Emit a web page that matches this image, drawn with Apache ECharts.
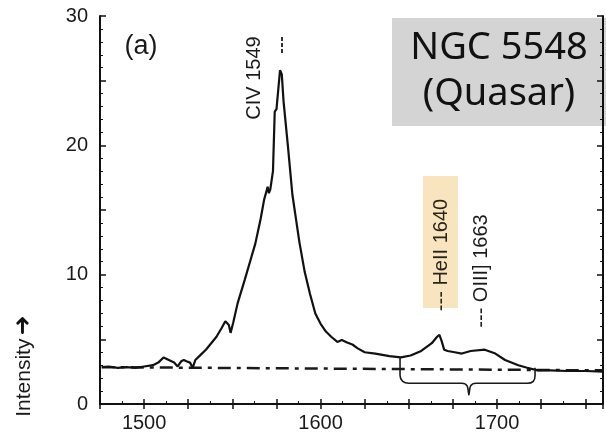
<!DOCTYPE html>
<html>
<head>
<meta charset="utf-8">
<script src="https://cdn.jsdelivr.net/npm/echarts@6/dist/echarts.min.js"></script>
<style>
  html, body { margin: 0; padding: 0; background: #fff; }
  #chart { width: 606px; height: 437px; }
</style>
</head>
<body>
<div id="chart"></div>
<script>
// spectrum (wavelength in A, relative intensity)
var wavelength = [1476, 1480, 1485, 1490, 1495, 1500, 1505, 1508, 1511, 1514, 1517, 1519, 1521, 1522.5, 1524, 1526, 1527.5,
    1529, 1532, 1535, 1538, 1541, 1544, 1546, 1548, 1549, 1550.5, 1553, 1557, 1560, 1563, 1566, 1568, 1570, 1570.7, 1571.5,
    1573, 1574, 1575, 1576, 1577, 1578, 1579, 1581.5, 1584, 1588, 1591, 1594, 1597, 1600, 1603, 1606, 1609.5, 1612, 1615,
    1618, 1621, 1625, 1631, 1639, 1645.5, 1651, 1657, 1663, 1666, 1667.3, 1668.5, 1670, 1672, 1676, 1680, 1685, 1693, 1699,
    1704.5, 1712, 1717, 1723, 1730, 1740, 1750, 1760];
var intensity = [2.85, 2.9, 2.8, 2.85, 2.8, 2.9, 3.0, 3.2, 3.6, 3.4, 3.2, 2.9, 3.3, 3.4, 3.3, 3.2, 2.8,
    3.4, 3.8, 4.2, 4.7, 5.2, 5.9, 6.4, 6.1, 5.5, 6.3, 7.8, 9.6, 11.0, 12.4, 14.3, 15.8, 16.8, 16.3, 16.6,
    18.0, 22.6, 22.8, 22.9, 25.8, 25.5, 23.4, 19.9, 16.2, 12.5, 10.2, 8.5, 7.0, 6.2, 5.6, 5.2, 4.8, 4.95, 4.75,
    4.6, 4.3, 4.0, 3.9, 3.7, 3.6, 3.75, 4.1, 4.7, 5.2, 5.35, 4.9, 4.2, 4.1, 4.0, 3.9, 4.1, 4.2, 3.9,
    3.4, 3.0, 2.8, 2.6, 2.6, 2.55, 2.55, 2.5];

// continuum (dash-dot line)
var contWl = [1476, 1760];
var contVal = [2.85, 2.6];

// curly brace under the HeII / OIII] blend
var braceWl = [1645, 1645, 1646.5, 1650, 1680, 1683, 1684, 1685, 1688, 1717, 1720.5, 1721.5, 1721.5];
var braceVal = [3.6, 2.2, 1.75, 1.6, 1.6, 1.4, 0.7, 1.4, 1.6, 1.6, 1.75, 2.2, 2.8];

function pairs(xs, ys) {
    var out = [];
    for (var i = 0; i < xs.length; i++) out.push([xs[i], ys[i]]);
    return out;
}

// rotated / plain text helper for the annotations
function label(text, x, y, size, rot, color, family) {
    return {
        type: 'text', x: x, y: y, rotation: rot ? Math.PI / 2 : 0,
        style: {
            text: text, fontSize: size, fontFamily: family || 'Liberation Sans',
            fill: color || '#1a1a1a', align: 'center', verticalAlign: 'middle'
        }
    };
}

var chart = echarts.init(document.getElementById('chart'));

var option = {
    animation: false,
    backgroundColor: '#fff',
    grid: { left: 100, right: 1, top: 16, bottom: 33 },
    xAxis: [{
        type: 'value', min: 1475, max: 1760, interval: 25,
        axisLine: { lineStyle: { color: '#111', width: 2 } },
        axisTick: { inside: true, length: 5, lineStyle: { color: '#111', width: 1.5 } },
        minorTick: { show: true, splitNumber: 2, length: 3, lineStyle: { color: '#111' } },
        splitLine: { show: false },
        axisLabel: {
            color: '#1a1a1a', fontSize: 20, fontFamily: 'Liberation Sans', margin: 9,
            formatter: function (v) { return v % 100 === 0 ? v : ''; }
        }
    }, {
        type: 'value', position: 'top', min: 1475, max: 1760, interval: 25,
        axisLine: { show: true, lineStyle: { color: '#111', width: 2 } },
        axisTick: { show: true, inside: true, length: 5, lineStyle: { color: '#111', width: 1.5 } },
        axisLabel: { show: false },
        splitLine: { show: false }
    }],
    yAxis: [{
        type: 'value', min: 0, max: 30, interval: 5,
        axisLine: { show: true, lineStyle: { color: '#111', width: 2 } },
        axisTick: { show: true, inside: true, length: 6, lineStyle: { color: '#111', width: 1.5 } },
        minorTick: { show: true, splitNumber: 5, length: 3, lineStyle: { color: '#111' } },
        splitLine: { show: false },
        axisLabel: {
            color: '#1a1a1a', fontSize: 20, fontFamily: 'Liberation Sans', margin: 12,
            formatter: function (v) { return v % 10 === 0 ? v : ''; }
        }
    }, {
        type: 'value', position: 'right', min: 0, max: 30, interval: 5,
        axisLine: { show: true, lineStyle: { color: '#111', width: 2 } },
        axisTick: { show: true, inside: true, length: 6, lineStyle: { color: '#111', width: 1.5 } },
        minorTick: { show: true, splitNumber: 5, length: 3, lineStyle: { color: '#111' } },
        axisLabel: { show: false },
        splitLine: { show: false }
    }],
    series: [{
        name: 'continuum', type: 'line', showSymbol: false,
        data: pairs(contWl, contVal),
        lineStyle: { color: '#1a1a1a', width: 2.5, type: [13, 6, 4, 6] }
    }, {
        name: 'spectrum', type: 'line', showSymbol: false,
        data: pairs(wavelength, intensity),
        lineStyle: { color: '#111', width: 2.2 }
    }, {
        name: 'brace', type: 'line', showSymbol: false, smooth: 0.3,
        data: pairs(braceWl, braceVal),
        lineStyle: { color: '#1a1a1a', width: 1.6 }
    }],
    graphic: [
        label('(a)', 141, 47, 27),
        label('CIV 1549', 254, 78, 20, true),
        { type: 'line', shape: { x1: 282, y1: 37, x2: 282, y2: 55 }, style: { stroke: '#1a1a1a', lineWidth: 1.8, lineDash: [4, 2] } },
        { type: 'rect', shape: { x: 423, y: 176, width: 35, height: 132 }, style: { fill: '#f8e5c0' } },
        label('--- HeII 1640', 441, 255, 20, true, '#2a2418'),
        label('--- OIII] 1663', 481, 271, 20, true),
        { type: 'rect', shape: { x: 392, y: 18, width: 214, height: 108 }, style: { fill: '#d4d4d4' } },
        label('NGC 5548', 499, 48, 38, false, '#111', 'Noto Sans'),
        label('(Quasar)', 499, 94, 38, false, '#111', 'Noto Sans'),
        {
            type: 'text', x: 24, y: 366, rotation: Math.PI / 2,
            style: {
                text: '{a|Intensity} {b|\u279C}', align: 'center', verticalAlign: 'middle',
                rich: {
                    a: { fontSize: 21, fontFamily: 'Liberation Sans', fill: '#1a1a1a', color: '#1a1a1a' },
                    b: { fontSize: 24, fontWeight: 'bold', fontFamily: 'DejaVu Sans', fill: '#111', color: '#111' }
                }
            }
        }
    ]
};
chart.setOption(option);
window.addEventListener('resize', chart.resize);
</script>
</body>
</html>
